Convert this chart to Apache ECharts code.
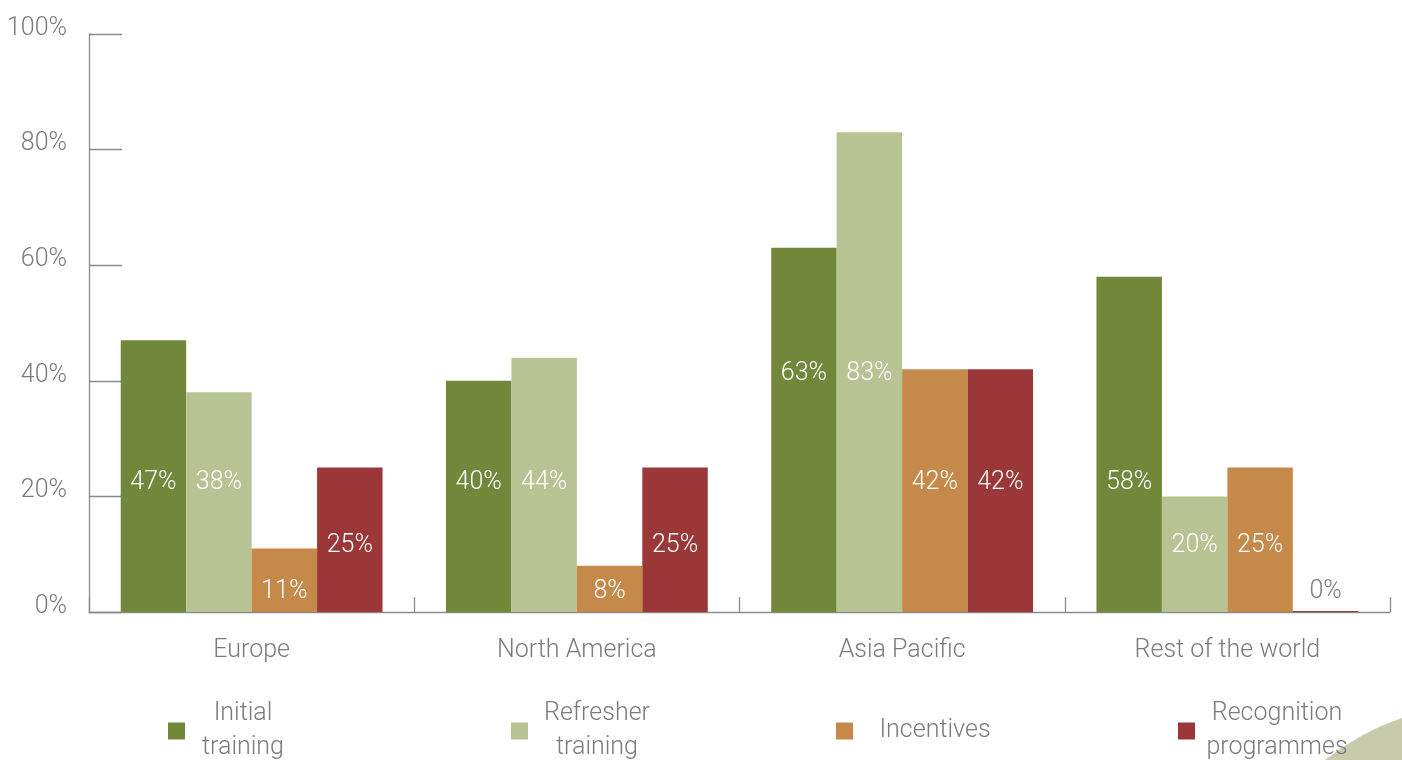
<!DOCTYPE html>
<html>
<head>
<meta charset="utf-8">
<title>Training and motivation by region</title>
<script src="https://cdn.jsdelivr.net/npm/echarts@6/dist/echarts.min.js"></script>
<style>
  html, body { margin: 0; padding: 0; background: #ffffff; }
  #chart { width: 1402px; height: 760px; }
</style>
</head>
<body>
<div id="chart"></div>
<script>
// ---- data ----
const regions = ['Europe', 'North America', 'Asia Pacific', 'Rest of the world'];
const seriesNames = ['Initial training', 'Refresher training', 'Incentives', 'Recognition programmes'];
const initialTraining = [47, 40, 63, 58];
const refresherTraining = [38, 44, 83, 20];
const incentives = [11, 8, 42, 25];
const recognitionProgrammes = [25, 25, 42, 0];
const yTicks = [0, 20, 40, 60, 80, 100];

// ---- styling ----
const FONT = 'Roboto, "DejaVu Sans Condensed", sans-serif';
const WEIGHT = 300;
const GREY_TEXT = '#7b7b7b';
const GREY_AXIS = '#8a8a8a';
const colors = ['#71883a', '#b7c393', '#c58a4a', '#9b3739'];
const seriesValues = [initialTraining, refresherTraining, incentives, recognitionProgrammes];
// Roboto sits slightly high when middle-aligned; nudge text down a little.
const TEXT_NUDGE = 3;

// Height (in axis units) at which each value label sits inside its bar.
const labelHeights = [
  [22.8, 22.8, 41.7, 22.8],
  [22.8, 22.8, 41.7, 11.9],
  [4, 4, 22.8, 11.9],
  [11.9, 11.9, 22.8, 4]
];

// Legend layout: left edge of the swatch, text box width, text lines.
const legendLayout = [
  { left: 168, width: 106, lines: ['Initial', 'training'] },
  { left: 511, width: 128, lines: ['Refresher', 'training'] },
  { left: 836, width: 154, lines: ['Incentives'] },
  { left: 1178, width: 154, lines: ['Recognition', 'programmes'] }
];
const LEGEND_MID = 728;
const LINE_H = 34;

const chart = echarts.init(document.getElementById('chart'), null, { renderer: 'canvas' });

function buildSeries(offsets) {
  return seriesNames.map((name, s) => ({
    name: name,
    type: 'bar',
    barGap: 0,
    barCategoryGap: '19.5%',
    barMinHeight: s === 3 ? 1 : 0,
    itemStyle: { color: colors[s] },
    data: seriesValues[s].map((v, i) => ({
      value: v,
      label: {
        show: true,
        position: 'insideBottom',
        distance: 0,
        verticalAlign: 'middle',
        offset: [0, offsets ? TEXT_NUDGE - offsets[s][i] : 0],
        formatter: '{c}%',
        color: v === 0 ? GREY_TEXT : '#ffffff',
        fontFamily: FONT,
        fontWeight: WEIGHT,
        fontSize: 25
      }
    })),
    emphasis: { disabled: true }
  }));
}

const legends = legendLayout.map((L, k) => {
  const h = Math.max(17, L.lines.length * LINE_H);
  return {
    data: [seriesNames[k]],
    left: L.left,
    top: LEGEND_MID - h / 2 + TEXT_NUDGE,
    padding: 0,
    icon: 'rect',
    itemWidth: 17,
    itemHeight: 17,
    selectedMode: false,
    formatter: () => L.lines.map(t => '{t|' + t + '}').join('\n'),
    textStyle: {
      color: GREY_TEXT,
      fontFamily: FONT,
      fontWeight: WEIGHT,
      fontSize: 25,
      lineHeight: LINE_H,
      rich: {
        t: {
          width: L.width,
          align: 'center',
          color: GREY_TEXT,
          fontFamily: FONT,
          fontWeight: WEIGHT,
          fontSize: 25,
          lineHeight: LINE_H
        }
      }
    }
  };
});

const option = {
  animation: false,
  backgroundColor: '#ffffff',
  grid: { left: 89, right: 12, top: 34, bottom: 148, containLabel: false },
  legend: legends,
  xAxis: {
    type: 'category',
    data: regions,
    boundaryGap: true,
    axisLine: { show: true, lineStyle: { color: GREY_AXIS, width: 1.3 } },
    axisTick: { show: true, inside: true, length: 15, interval: 0, lineStyle: { color: GREY_AXIS, width: 1.3 } },
    axisLabel: { color: GREY_TEXT, fontFamily: FONT, fontWeight: WEIGHT, fontSize: 25, margin: 26 },
    splitLine: { show: false }
  },
  yAxis: {
    type: 'value',
    min: yTicks[0],
    max: yTicks[yTicks.length - 1],
    interval: yTicks[1] - yTicks[0],
    axisLine: { show: true, lineStyle: { color: GREY_AXIS, width: 1.3 } },
    axisTick: { show: true, inside: true, length: 33, lineStyle: { color: GREY_AXIS, width: 1.3 } },
    axisLabel: {
      color: GREY_TEXT,
      fontFamily: FONT,
      fontWeight: WEIGHT,
      fontSize: 25,
      margin: 22,
      verticalAlign: 'bottom',
      lineHeight: 11,
      formatter: '{value}%'
    },
    splitLine: { show: false }
  },
  // Decorative corner wedge
  graphic: [{
    type: 'polygon',
    silent: true,
    shape: {
      points: [[1325, 760], [1343, 747], [1362, 735.5], [1381, 726], [1402, 718], [1402, 760]]
    },
    style: { fill: '#c8cbab' }
  }],
  series: buildSeries(null)
};

chart.setOption(option);

// Place value labels at their heights using the value axis scale.
const zeroPx = chart.convertToPixel({ yAxisIndex: 0 }, 0);
const offsets = labelHeights.map(row => row.map(h => zeroPx - chart.convertToPixel({ yAxisIndex: 0 }, h)));
chart.setOption({ series: buildSeries(offsets) });
</script>
</body>
</html>
